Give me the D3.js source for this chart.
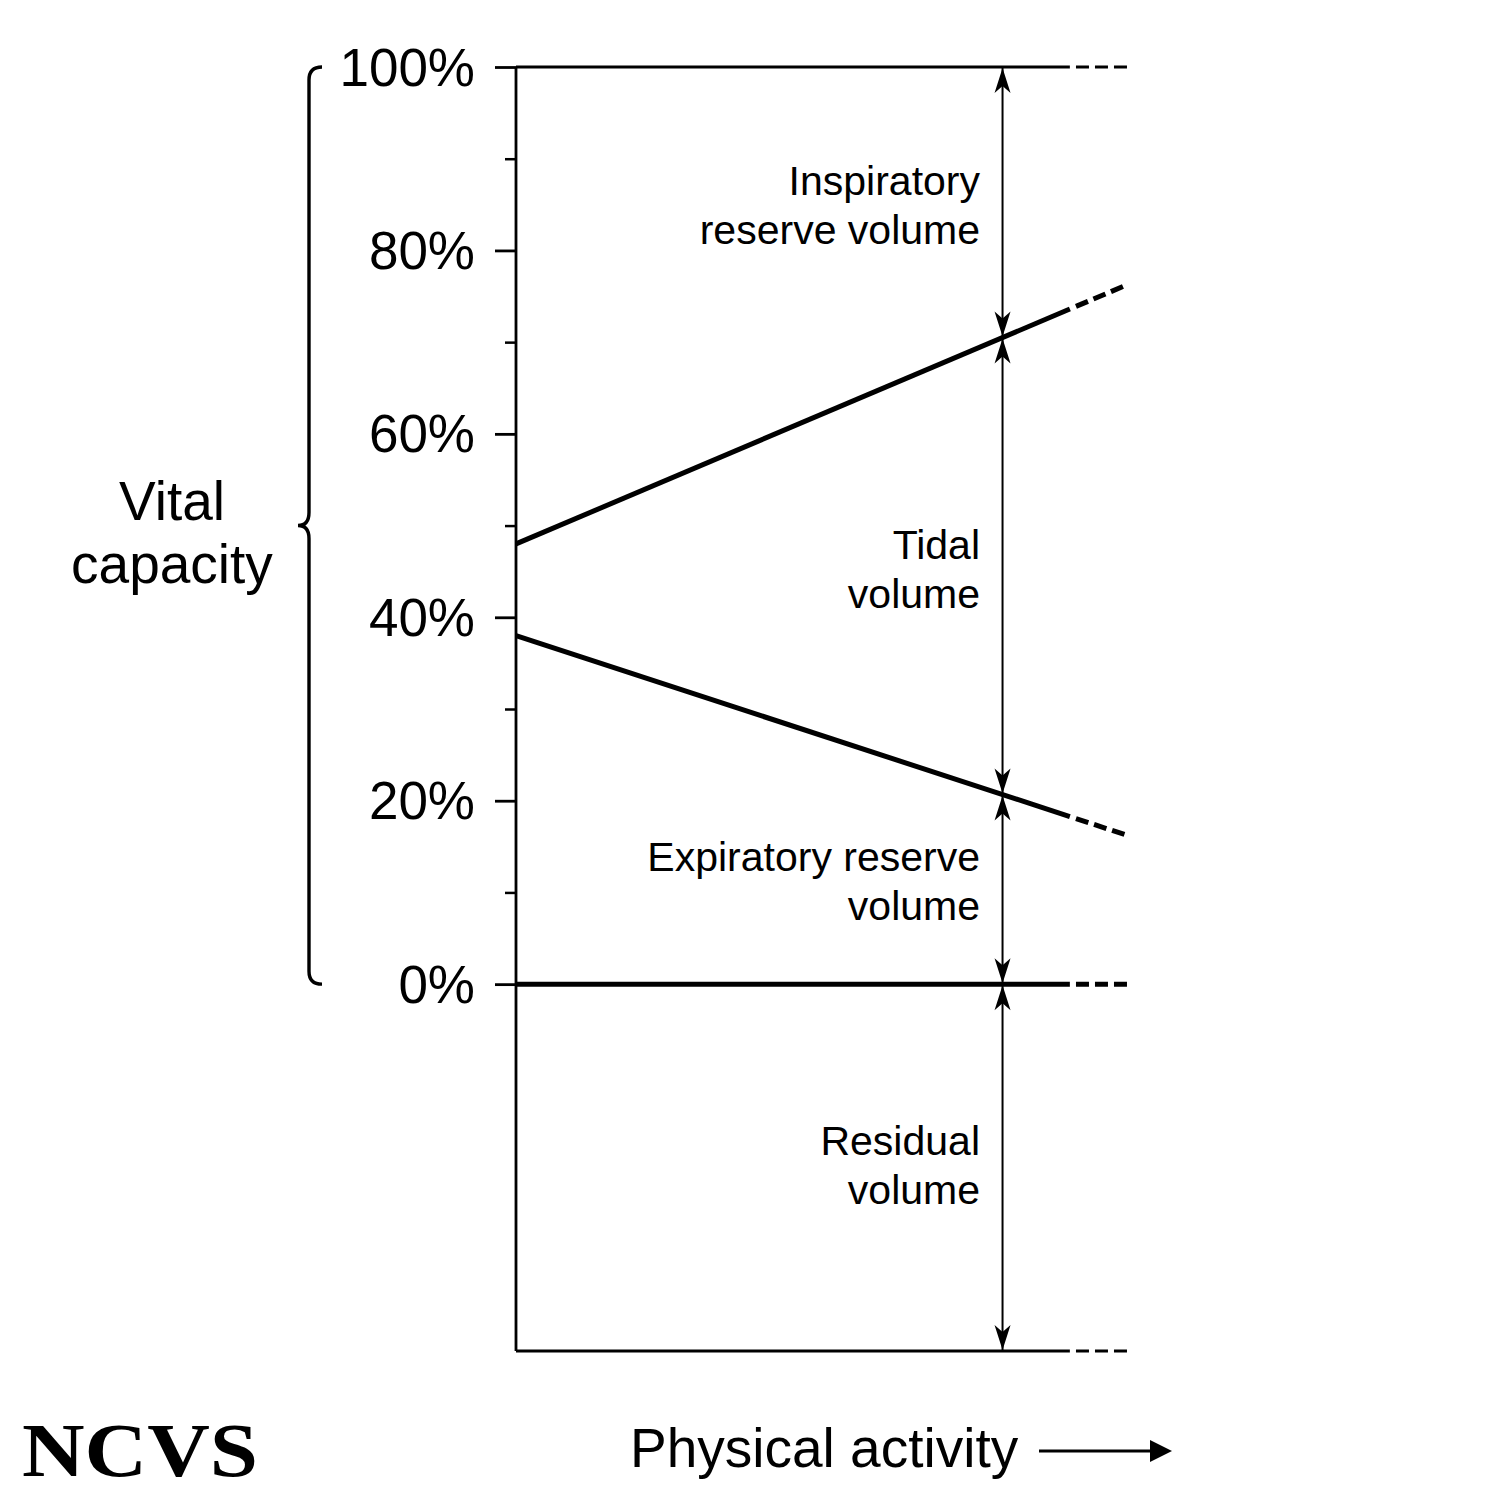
<!DOCTYPE html>
<html><head><meta charset="utf-8">
<script src="https://cdn.jsdelivr.net/npm/d3@7"></script>
<style>body{margin:0;background:#fff}svg{display:block}</style>
</head><body>
<script>
// ---- data ----
const majorTicks = [0, 20, 40, 60, 80, 100];
const majorTickLabels = ["0%", "20%", "40%", "60%", "80%", "100%"];
const minorTicks = [10, 30, 50, 70, 90];
const activity = [0, 1];                 // physical activity (relative)
const inspiratoryBoundary = [48, 76.3];  // top of tidal volume (%)
const expiratoryBoundary = [38, 16.2];   // bottom of tidal volume (%)
const topLevel = 100, zeroLevel = 0, bottomLevel = -40;
const solidEnd = 0.905;                  // where lines turn dashed
const markerX = 0.795;                   // position of vertical arrows
const regionLabels = [
  {lines: ["Inspiratory", "reserve volume"], baselines: [195, 244]},
  {lines: ["Tidal", "volume"], baselines: [559, 608]},
  {lines: ["Expiratory reserve", "volume"], baselines: [871, 920]},
  {lines: ["Residual", "volume"], baselines: [1155, 1204]}
];

const W = 1500, H = 1500;
const svg = d3.select("body").append("svg").attr("width", W).attr("height", H);
const x = d3.scaleLinear().domain([0, 1]).range([516, 1128]);
const y = d3.scaleLinear().domain([bottomLevel, topLevel]).range([1351, 67]);
const font = "'Liberation Sans', Arial, Helvetica, sans-serif";

// y axis
const axis = d3.axisLeft(y).tickValues(majorTicks).tickSize(21)
  .tickFormat(d => majorTickLabels[majorTicks.indexOf(d)]).tickPadding(20);
const gAxis = svg.append("g").attr("transform", `translate(${x(0)},0)`).call(axis);
gAxis.select(".domain").remove();
gAxis.selectAll(".tick line").attr("stroke", "#000").attr("stroke-width", 2.8);
gAxis.selectAll(".tick text").attr("font-family", font).attr("font-size", 53)
  .attr("fill", "#000").attr("dy", "0.34em");
const gMinor = svg.append("g").attr("transform", `translate(${x(0)},0)`)
  .call(d3.axisLeft(y).tickValues(minorTicks).tickSize(11).tickFormat(""));
gMinor.select(".domain").remove();
gMinor.selectAll(".tick line").attr("stroke", "#000").attr("stroke-width", 2.5);

// vertical axis line
svg.append("line").attr("x1", x(0)).attr("x2", x(0)).attr("y1", y(topLevel)).attr("y2", y(bottomLevel))
  .attr("stroke", "#000").attr("stroke-width", 2.8);

// lines (solid + dashed parts)
const lineGen = d3.line().x(d => x(d[0])).y(d => y(d[1]));
function interp(vals, t) { return vals[0] + (vals[1] - vals[0]) * (t - activity[0]) / (activity[1] - activity[0]); }
const seriesDefs = [
  {vals: [topLevel, topLevel], w: 3},
  {vals: [bottomLevel, bottomLevel], w: 3},
  {vals: [zeroLevel, zeroLevel], w: 5},
  {vals: inspiratoryBoundary, w: 5},
  {vals: expiratoryBoundary, w: 5}
];
const dashStart = solidEnd + 0.01;
seriesDefs.forEach(s => {
  svg.append("path").attr("d", lineGen([[activity[0], s.vals[0]], [solidEnd, interp(s.vals, solidEnd)]]))
    .attr("stroke", "#000").attr("stroke-width", s.w).attr("fill", "none");
  svg.append("path").attr("d", lineGen([[dashStart, interp(s.vals, dashStart)], [activity[1], s.vals[1]]]))
    .attr("stroke", "#000").attr("stroke-width", s.w).attr("fill", "none")
    .attr("stroke-dasharray", "13,6");
});

// vertical arrows
const levelsAtMarker = [topLevel, interp(inspiratoryBoundary, markerX), interp(expiratoryBoundary, markerX), zeroLevel, bottomLevel];
const mx = x(markerX);
svg.append("line").attr("x1", mx).attr("x2", mx).attr("y1", y(topLevel)).attr("y2", y(bottomLevel))
  .attr("stroke", "#000").attr("stroke-width", 2);
function arrowHead(tipY, dir) { // dir=1 pointing up (body below), -1 pointing down
  const L = 25, hw = 8, notch = 18;
  return `M${mx},${tipY} L${mx - hw},${tipY + dir * L} L${mx},${tipY + dir * notch} L${mx + hw},${tipY + dir * L} Z`;
}
levelsAtMarker.forEach((v, i) => {
  const py = y(v);
  if (i < levelsAtMarker.length - 1) svg.append("path").attr("d", arrowHead(py + 1, 1)).attr("fill", "#000");
  if (i > 0) svg.append("path").attr("d", arrowHead(py - 1, -1)).attr("fill", "#000");
});

// region labels
regionLabels.forEach(l => {
  l.lines.forEach((t, j) => {
    svg.append("text").attr("x", 980).attr("y", l.baselines[j]).attr("text-anchor", "end")
      .attr("font-family", font).attr("font-size", 41).attr("fill", "#000").text(t);
  });
});

// brace
const bx = 309, bt = y(topLevel), bb = y(zeroLevel), bm = (bt + bb) / 2;
const brace = `M${bx + 13},${bt} Q${bx},${bt} ${bx},${bt + 13} L${bx},${bm - 13} Q${bx},${bm} ${bx - 11},${bm} Q${bx},${bm} ${bx},${bm + 13} L${bx},${bb - 13} Q${bx},${bb} ${bx + 13},${bb}`;
svg.append("path").attr("d", brace).attr("fill", "none").attr("stroke", "#000").attr("stroke-width", 3.4);

// Vital capacity
[["Vital", 520], ["capacity", 583]].forEach(([t, yy]) => {
  svg.append("text").attr("x", 172).attr("y", yy).attr("text-anchor", "middle")
    .attr("font-family", font).attr("font-size", 55).attr("fill", "#000").text(t);
});

// x label with arrow
svg.append("text").attr("x", 630).attr("y", 1467).attr("font-family", font).attr("font-size", 55)
  .attr("fill", "#000").text("Physical activity");
svg.append("line").attr("x1", 1039).attr("x2", 1152).attr("y1", 1451).attr("y2", 1451)
  .attr("stroke", "#000").attr("stroke-width", 2.8);
svg.append("path").attr("d", "M1172,1451 L1150,1440 L1150,1462 Z").attr("fill", "#000");

// NCVS logo
svg.append("text").attr("x", 22).attr("y", 1476).attr("font-family", "'Liberation Serif', 'DejaVu Serif', serif")
  .attr("font-size", 76).attr("font-weight", "bold").attr("textLength", 236).attr("lengthAdjust", "spacingAndGlyphs")
  .attr("fill", "#000").text("NCVS");
</script>
</body></html>
